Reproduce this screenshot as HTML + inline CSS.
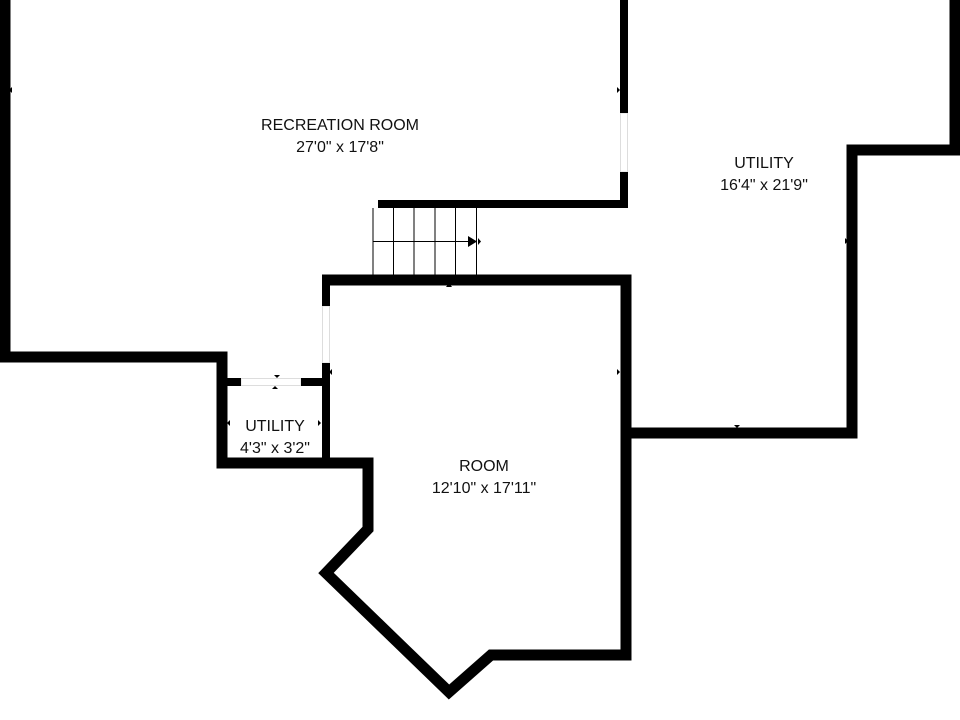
<!DOCTYPE html>
<html><head><meta charset="utf-8"><style>
html,body{margin:0;padding:0;background:#fff;}
svg{display:block;}
text{font-family:"Liberation Sans",sans-serif;font-size:16px;fill:#111;text-anchor:middle;}
</style></head><body>
<svg width="960" height="720" viewBox="0 0 960 720" xmlns="http://www.w3.org/2000/svg">
<!-- door gaps faint outlines -->
<g fill="none" stroke="#ddd" stroke-width="1">
<rect x="322.5" y="306" width="7" height="57"/>
<rect x="241" y="378.5" width="60" height="7"/>
<rect x="620.5" y="113" width="7" height="59"/>
</g>
<g fill="none" stroke="#000" stroke-linejoin="miter" stroke-linecap="butt">
<polyline stroke-width="11" points="5,0 5,357 222,357 222,463 368,463 368,529 326,573 449,692 491,655 626,655 626,280 322,280"/>
<line stroke-width="8" x1="326" y1="276" x2="326" y2="306"/>
<line stroke-width="8" x1="326" y1="363" x2="326" y2="463"/>
<line stroke-width="8" x1="222" y1="382" x2="241" y2="382"/>
<line stroke-width="8" x1="301" y1="382" x2="330" y2="382"/>
<line stroke-width="8" x1="624" y1="0" x2="624" y2="113"/>
<polyline stroke-width="8" points="624,172 624,204 378,204"/>
<polyline stroke-width="11" points="955,0 955,150 852,150 852,433 626,433"/>
<g stroke-width="1">
<line x1="373" y1="208" x2="373" y2="275"/>
<line x1="393.5" y1="208" x2="393.5" y2="275"/>
<line x1="414" y1="208" x2="414" y2="275"/>
<line x1="435" y1="208" x2="435" y2="275"/>
<line x1="455.5" y1="208" x2="455.5" y2="275"/>
<line x1="476.5" y1="208" x2="476.5" y2="275"/>
<line x1="373" y1="241.5" x2="468" y2="241.5"/>
</g>
</g>
<polygon points="468,236 477,241.5 468,247" fill="#000"/>
<g fill="#000">
<polygon points="478,238 478,245 481,241.5"/>
<polygon points="12,87 12,93 9,90"/>
<polygon points="617,87 617,93 620,90"/>
<polygon points="845,238 845,244 848,241"/>
<polygon points="734,425 740,425 737,428"/>
<polygon points="446,287 452,287 449,283"/>
<polygon points="332,369 332,375 329,372"/>
<polygon points="617,369 617,375 620,372"/>
<polygon points="274,375 280,375 277,378"/>
<polygon points="272,389 278,389 275,386"/>
<polygon points="230,420 230,426 227,423"/>
<polygon points="318,420 318,426 321,423"/>
</g>
<text x="340" y="130">RECREATION ROOM</text>
<text x="340" y="152">27'0" x 17'8"</text>
<text x="764" y="168">UTILITY</text>
<text x="764" y="190">16'4" x 21'9"</text>
<text x="275" y="431">UTILITY</text>
<text x="275" y="453">4'3" x 3'2"</text>
<text x="484" y="471">ROOM</text>
<text x="484" y="493">12'10" x 17'11"</text>
</svg>
</body></html>
